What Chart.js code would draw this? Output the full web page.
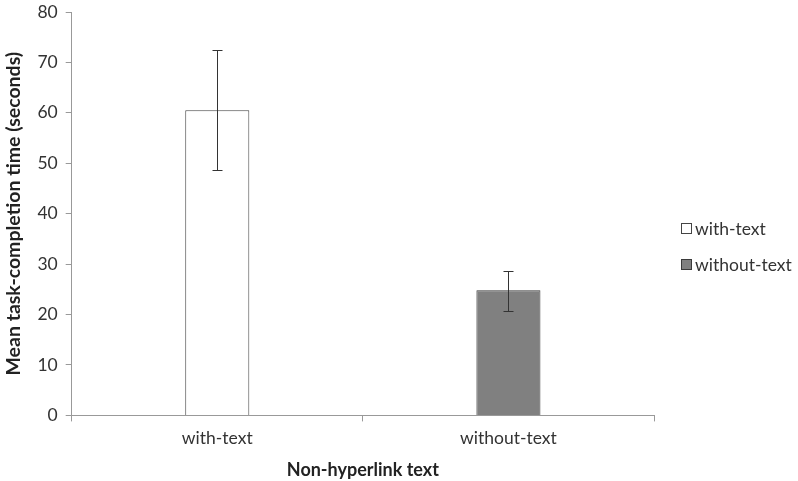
<!DOCTYPE html>
<html><head><meta charset="utf-8">
<script src="https://cdn.jsdelivr.net/npm/chart.js@4"></script>
<style>html,body{margin:0;padding:0;background:#fff}#wrap{width:798px;height:481px}</style>
</head><body><div id="wrap"><canvas id="c" width="798" height="481"></canvas></div>
<script>
const categories = ["with-text", "without-text"];
const seriesNames = ["with-text", "without-text"];
const withTextValues = [60.5, null];
const withoutTextValues = [null, 24.8];
const errLow = [48.7, 20.8];
const errHigh = [72.5, 28.6];
const yTicks = [0, 10, 20, 30, 40, 50, 60, 70, 80];

const FONT = "Lato, 'Open Sans', sans-serif";

const errorBars = {
  id: 'errorBars',
  afterDatasetsDraw(chart) {
    const ctx = chart.ctx, x = chart.scales.x, y = chart.scales.y;
    ctx.save();
    ctx.strokeStyle = '#333';
    ctx.lineWidth = 1;
    categories.forEach((c, i) => {
      const px = Math.round(x.getPixelForValue(i)) + 0.5;
      const pt = Math.round(y.getPixelForValue(errHigh[i])) + 0.5;
      const pb = Math.round(y.getPixelForValue(errLow[i])) + 0.5;
      ctx.beginPath();
      ctx.moveTo(px, pt); ctx.lineTo(px, pb);
      ctx.moveTo(px - 5, pt); ctx.lineTo(px + 5, pt);
      ctx.moveTo(px - 5, pb); ctx.lineTo(px + 5, pb);
      ctx.stroke();
    });
    ctx.restore();
  }
};

const sideLegend = {
  id: 'sideLegend',
  afterDraw(chart) {
    const ctx = chart.ctx;
    const boxX = chart.chartArea.right + 27;
    const midY = (chart.chartArea.top + chart.chartArea.bottom) / 2 + 33;
    const gap = 36;
    ctx.save();
    ctx.font = "17.5px " + FONT;
    ctx.textBaseline = 'middle';
    ctx.textAlign = 'left';
    chart.data.datasets.forEach((ds, i) => {
      const cy = Math.round(midY + (i - 0.5) * gap);
      ctx.fillStyle = ds.backgroundColor;
      ctx.fillRect(boxX + 0.5, cy - 5.5, 10, 10);
      ctx.strokeStyle = ds.borderColor;
      ctx.lineWidth = 1;
      ctx.strokeRect(boxX + 0.5, cy - 5.5, 10, 10);
      ctx.fillStyle = '#333';
      ctx.fillText(ds.label, boxX + 14, cy);
    });
    ctx.restore();
  }
};

new Chart(document.getElementById('c'), {
  type: 'bar',
  data: {
    labels: categories,
    datasets: [
      { label: seriesNames[0], data: withTextValues, backgroundColor: '#ffffff', borderColor: '#444', borderWidth: 1 },
      { label: seriesNames[1], data: withoutTextValues, backgroundColor: '#808080', borderColor: '#3a3a3a', borderWidth: 1 }
    ]
  },
  options: {
    responsive: false,
    animation: false,
    devicePixelRatio: 1,
    layout: { padding: { top: 12, left: 2, right: 144, bottom: 0 } },
    datasets: { bar: { grouped: false, categoryPercentage: 1, barPercentage: 0.22 } },
    plugins: {
      tooltip: { enabled: false },
      legend: { display: false }
    },
    scales: {
      x: {
        offset: true,
        grid: { offset: true, drawOnChartArea: false, drawTicks: true, tickLength: 6, color: '#999' },
        border: { color: '#999' },
        ticks: { font: { family: FONT, size: 17.5 }, color: '#333', padding: 6 },
        title: { display: true, text: 'Non-hyperlink text', font: { family: FONT, size: 18, weight: 'bold' }, color: '#222', padding: { top: 5, bottom: 0 } }
      },
      y: {
        min: 0, max: 80,
        afterBuildTicks(s) { s.ticks = yTicks.map(v => ({ value: v })); },
        afterFit(s) { s.paddingTop = 0; s.paddingBottom = 0; },
        grid: { drawOnChartArea: false, drawTicks: true, tickLength: 6, color: '#999' },
        border: { color: '#999' },
        ticks: { font: { family: FONT, size: 17.5 }, color: '#333', padding: 8 },
        title: { display: true, text: 'Mean task-completion time (seconds)', font: { family: FONT, size: 19.5, weight: 'bold' }, color: '#222', padding: { top: 0, bottom: 4 } }
      }
    }
  },
  plugins: [errorBars, sideLegend]
});
</script></body></html>
